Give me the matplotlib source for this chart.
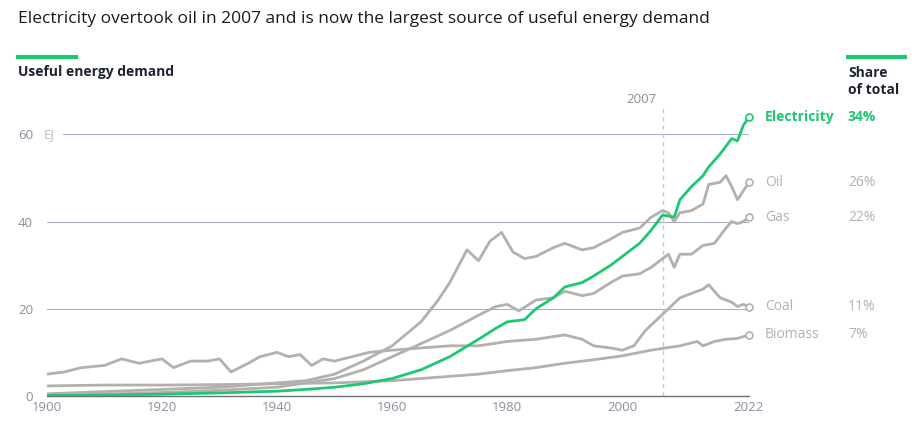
import matplotlib
matplotlib.use("Agg")
import matplotlib.pyplot as plt
from matplotlib.lines import Line2D

plt.rcParams['font.family'] = ['Open Sans', 'DejaVu Sans']

elec_years = [1900,1910,1920,1930,1940,1945,1950,1955,1960,1965,1970,1975,1978,1980,1983,1985,1988,1990,1993,1995,1998,2000,2003,2005,2007,2009,2010,2012,2014,2015,2017,2019,2020,2021,2022]
elec_vals  = [0.1,0.2,0.4,0.7,1.1,1.5,2.0,2.8,4.0,6.0,9.0,13.0,15.5,17.0,17.5,20.0,22.5,25.0,26.0,27.5,30.0,32.0,35.0,38.0,41.5,41.0,45.0,48.0,50.5,52.5,55.5,59.0,58.5,62.0,64.0]

oil_years = [1900,1910,1920,1930,1935,1940,1945,1950,1955,1960,1965,1968,1970,1973,1975,1977,1979,1981,1983,1985,1988,1990,1993,1995,1998,2000,2003,2005,2007,2008,2009,2010,2012,2014,2015,2017,2018,2019,2020,2021,2022]
oil_vals  = [0.5,1.0,1.5,2.0,2.5,3.0,3.5,5.0,8.0,11.5,17.0,22.0,26.0,33.5,31.0,35.5,37.5,33.0,31.5,32.0,34.0,35.0,33.5,34.0,36.0,37.5,38.5,41.0,42.5,42.0,40.0,42.0,42.5,44.0,48.5,49.0,50.5,48.0,45.0,47.0,49.0]

gas_years = [1900,1910,1920,1930,1940,1945,1950,1955,1960,1965,1970,1975,1978,1980,1982,1985,1988,1990,1993,1995,1998,2000,2003,2005,2007,2008,2009,2010,2012,2014,2016,2018,2019,2020,2021,2022]
gas_vals  = [0.2,0.4,0.8,1.3,2.0,3.0,4.0,6.0,9.0,12.0,15.0,18.5,20.5,21.0,19.5,22.0,22.5,24.0,23.0,23.5,26.0,27.5,28.0,29.5,31.5,32.5,29.5,32.5,32.5,34.5,35.0,38.5,40.0,39.5,40.0,41.0]

coal_years = [1900,1903,1906,1910,1913,1916,1920,1922,1925,1928,1930,1932,1935,1937,1940,1942,1944,1946,1948,1950,1953,1956,1960,1965,1970,1975,1980,1985,1990,1993,1995,1998,2000,2002,2004,2006,2008,2010,2012,2014,2015,2017,2019,2020,2021,2022]
coal_vals  = [5.0,5.5,6.5,7.0,8.5,7.5,8.5,6.5,8.0,8.0,8.5,5.5,7.5,9.0,10.0,9.0,9.5,7.0,8.5,8.0,9.0,10.0,10.5,11.0,11.5,11.5,12.5,13.0,14.0,13.0,11.5,11.0,10.5,11.5,15.0,17.5,20.0,22.5,23.5,24.5,25.5,22.5,21.5,20.5,21.0,20.5]

bio_years = [1900,1910,1920,1930,1940,1950,1960,1965,1970,1975,1980,1985,1990,1995,2000,2005,2010,2013,2014,2016,2018,2020,2022]
bio_vals  = [2.3,2.5,2.5,2.6,2.8,3.0,3.5,4.0,4.5,5.0,5.8,6.5,7.5,8.3,9.2,10.5,11.5,12.5,11.5,12.5,13.0,13.2,14.0]

series = [("Oil", oil_years, oil_vals, "26%"),
          ("Gas", gas_years, gas_vals, "22%"),
          ("Coal", coal_years, coal_vals, "11%"),
          ("Biomass", bio_years, bio_vals, "7%")]

GREEN = "#1ec771"
GRAY = "#b3b0ae"
LABEL_GRAY = "#b5b0ab"
GRID = "#a9b1c4"
TICK = "#8a8f9c"

NAME_X = 2024.8
SHARE_X = 2039.2

fig = plt.figure(figsize=(9.19, 4.29), dpi=100)
ax = fig.add_axes([0.051, 0.077, 0.764, 0.671])
ax.set_xlim(1900, 2022)
ax.set_ylim(0, 66)

for v in [20, 40, 60]:
    ax.axhline(v, color=GRID, lw=0.8, zorder=0, xmin=0.023 if v == 60 else 0)
ax.axvline(2007, color="#c4c8d2", lw=1, ls=(0, (3, 3)), zorder=0)
ax.text(2006, 66.5, "2007", ha="right", va="bottom", fontsize=9.5, color=TICK)

for name, yrs, vals, share in series:
    ax.plot(yrs, vals, color=GRAY, lw=2, solid_capstyle="round", zorder=2)
    ax.plot(yrs[-1], vals[-1], "o", ms=5, mfc="white", mec=GRAY, mew=1.2, zorder=4, clip_on=False)
    ax.text(NAME_X, vals[-1], name, color=LABEL_GRAY, fontsize=10, va="center", ha="left")
    ax.text(SHARE_X, vals[-1], share, color=LABEL_GRAY, fontsize=10, va="center", ha="left")

ax.plot(elec_years, elec_vals, color=GREEN, lw=2, zorder=3)
ax.plot(elec_years[-1], elec_vals[-1], "o", ms=5, mfc="white", mec=GREEN, mew=1.2, zorder=5, clip_on=False)
ax.text(NAME_X, elec_vals[-1], "Electricity", color=GREEN, fontsize=10, fontweight="bold", va="center", ha="left")
ax.text(SHARE_X, elec_vals[-1], "34%", color=GREEN, fontsize=10, fontweight="bold", va="center", ha="left")

for s in ["top", "right", "left"]:
    ax.spines[s].set_visible(False)
ax.spines["bottom"].set_color("#6b6f78")
ax.spines["bottom"].set_linewidth(1)
ax.set_xticks([1900, 1920, 1940, 1960, 1980, 2000, 2022])
ax.set_yticks([0, 20, 40, 60])
ax.set_yticklabels(["0", "20", "40", "60"])
ax.tick_params(axis="both", length=0, labelsize=9.5, colors=TICK)
ax.tick_params(axis="y", pad=10)
ax.text(1899.5, 60, "EJ", color="#b8bcc6", fontsize=9.5, va="center", ha="left", clip_on=False)

fig.text(0.020, 0.955, "Electricity overtook oil in 2007 and is now the largest source of useful energy demand",
         fontsize=12.5, color="#1a1a1a", va="center", ha="left")
fig.add_artist(Line2D([0.020, 0.083], [0.867, 0.867], color=GREEN, lw=3, transform=fig.transFigure))
fig.text(0.020, 0.832, "Useful energy demand", fontsize=10, fontweight="bold", color="#1f2433", va="center")
fig.add_artist(Line2D([0.923, 0.985], [0.867, 0.867], color=GREEN, lw=3, transform=fig.transFigure))
fig.text(0.923, 0.810, "Share\nof total", fontsize=10, fontweight="bold", color="#1f2433", va="center", linespacing=1.2)

fig.savefig("out.png", dpi=100, facecolor="white")
